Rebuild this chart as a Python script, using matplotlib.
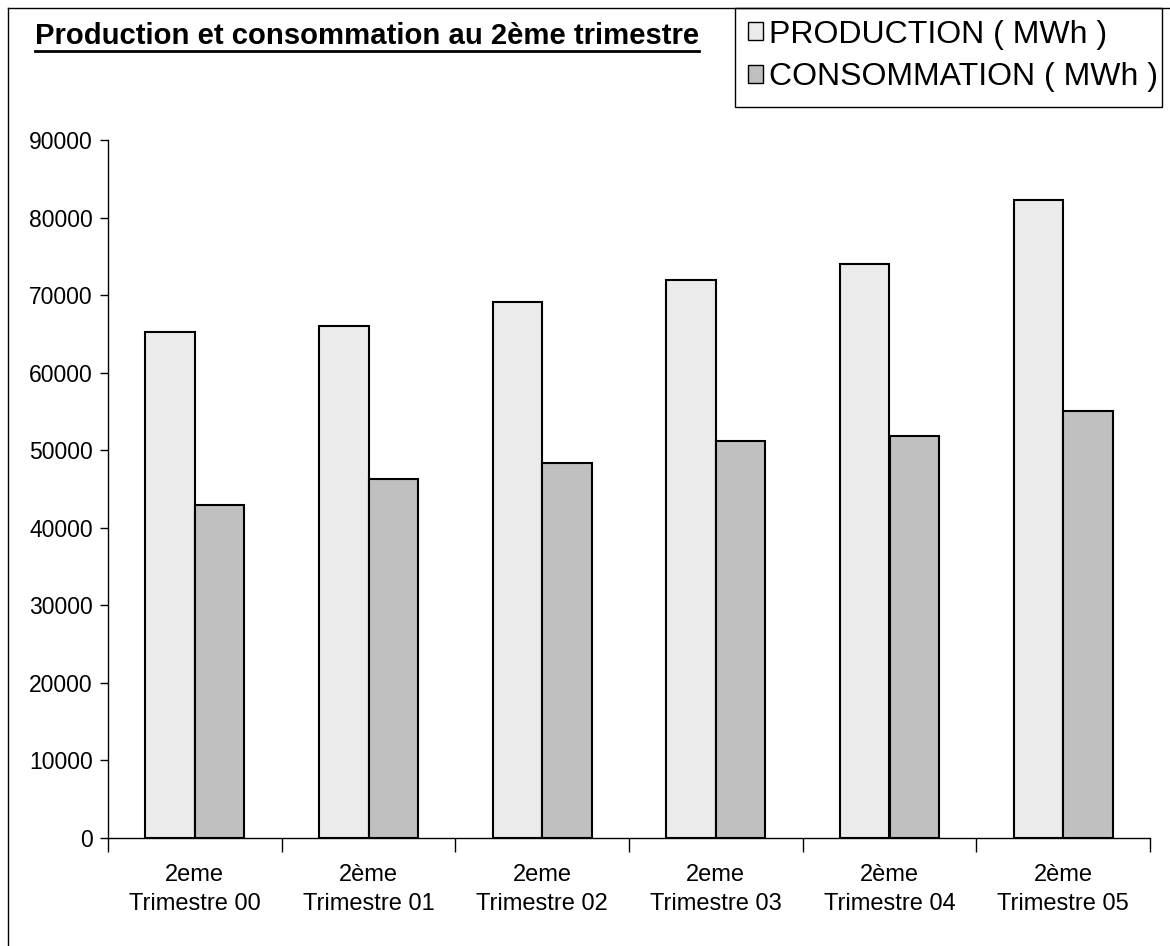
import matplotlib
matplotlib.use("Agg")
import matplotlib.pyplot as plt
from matplotlib.patches import Patch, Rectangle
from matplotlib.lines import Line2D
import numpy as np

plt.rcParams['font.family'] = ['Liberation Sans', 'DejaVu Sans']

# data
categories = ["2eme\nTrimestre 00", "2ème\nTrimestre 01", "2eme\nTrimestre 02",
              "2eme\nTrimestre 03", "2ème\nTrimestre 04", "2ème\nTrimestre 05"]
production = [65200, 66000, 69100, 72000, 74000, 82200]
consommation = [43000, 46300, 48400, 51200, 51800, 55100]
series_names = ["PRODUCTION ( MWh )", "CONSOMMATION ( MWh )"]
title = "Production et consommation au 2ème trimestre"

W, H = 1170, 946
fig = plt.figure(figsize=(W / 100, H / 100), dpi=100)
ax = fig.add_axes([108 / W, 1 - 838 / H, (1150 - 108) / W, (838 - 140) / H])

x = np.arange(len(categories))
bw = 1 / 3.5
prod_col = "#ebebeb"
cons_col = "#c0c0c0"
ax.bar(x - bw / 2, production, bw, color=prod_col, edgecolor="black", linewidth=1.5)
ax.bar(x + bw / 2, consommation, bw, color=cons_col, edgecolor="black", linewidth=1.5)

ax.set_xlim(-0.5, len(categories) - 0.5)
ax.set_ylim(0, 90000)
ax.set_yticks(np.arange(0, 90001, 10000))
ax.tick_params(axis='y', labelsize=16.5, length=6, width=1, direction='out', pad=5)

# category labels centred, tick marks on boundaries
ax.set_xticks(x)
ax.set_xticklabels(categories, fontsize=17, linespacing=1.4)
ax.tick_params(axis='x', which='major', length=0, pad=19)
ax.set_xticks(np.arange(-0.5, len(categories), 1), minor=True)
ax.tick_params(axis='x', which='minor', length=10, width=1, direction='out')

for s in ["top", "right"]:
    ax.spines[s].set_visible(False)
ax.spines["left"].set_linewidth(1)
ax.spines["bottom"].set_linewidth(1)

# title, underlined
t = fig.text(35 / W, 1 - 36 / H, title, fontsize=21.1, fontweight='bold', va='center', ha='left')
fig.canvas.draw()
bb = t.get_window_extent()
fig.add_artist(Line2D([bb.x0 / W, bb.x1 / W], [(bb.y0 - 1) / H, (bb.y0 - 1) / H],
                      color='black', linewidth=2))

# outer border (top and left)
fig.add_artist(Line2D([8 / W, 1], [1 - 8 / H, 1 - 8 / H], color='black', linewidth=1))
fig.add_artist(Line2D([8 / W, 8 / W], [0, 1 - 8 / H], color='black', linewidth=1))

# legend box
fig.add_artist(Rectangle((735 / W, 1 - 107 / H), (1162 - 735) / W, (107 - 8) / H,
                         transform=fig.transFigure, facecolor='white',
                         edgecolor='black', linewidth=1))
handles = [Patch(facecolor=prod_col, edgecolor='black', linewidth=1),
           Patch(facecolor=cons_col, edgecolor='black', linewidth=1)]
leg = fig.legend(handles, series_names, loc='center left',
                 bbox_to_anchor=(742 / W, 1 - 56 / H),
                 fontsize=23, frameon=False, borderaxespad=0,
                 handlelength=0.47, handleheight=0.47,
                 handletextpad=0.18, labelspacing=0.4, borderpad=0.2)

fig.savefig("out.png", dpi=100)
